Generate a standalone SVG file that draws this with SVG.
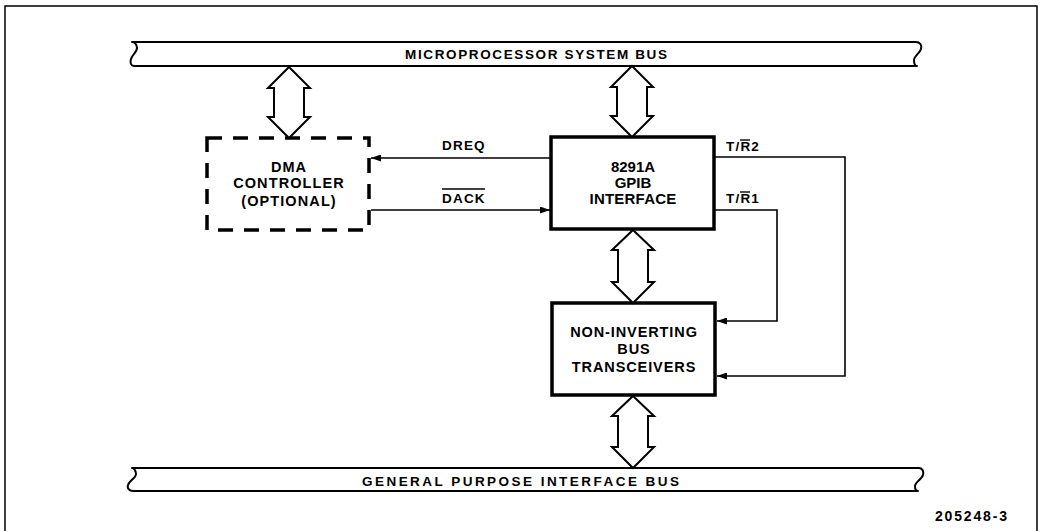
<svg xmlns="http://www.w3.org/2000/svg" width="1041" height="531" viewBox="0 0 1041 531">
<style>
text{font-family:"Liberation Sans",Arial,sans-serif;font-weight:bold;fill:#000}
.bus{fill:#fff;stroke:#000;stroke-width:2;stroke-linejoin:round}
.dbl{fill:#fff;stroke:#000;stroke-width:2;stroke-linejoin:miter}
.box{fill:#fff;stroke:#000;stroke-width:3.5}
.dash{fill:#fff;stroke:#000;stroke-width:3.5;stroke-dasharray:15 11}
.bt{font-size:14.5px;letter-spacing:1px;text-anchor:middle}
.lb{font-size:13.5px;letter-spacing:1.2px}
.wire{fill:none;stroke:#000;stroke-width:1.6}
.bar{stroke:#000;stroke-width:1.4}
</style>
<defs>
<marker id="ah" markerUnits="userSpaceOnUse" markerWidth="10" markerHeight="7" refX="10" refY="3.5" orient="auto">
<path d="M0,0 L10,3.5 L0,7 Z" fill="#000"/>
</marker>
</defs>
<path d="M5,540 V6 H1037 V540" fill="none" stroke="#000" stroke-width="1.5"/>
<g id="system-bus">
<path class="bus" d="M132,42 H916 C920,42 922,45 921,49 C920,53 914,56 914,60 C914,64 915,66 917,66 H134 C131,66 130,63 131,59 C132,55 137,52 137,48 C137,45 135,42 132,42 Z"/>
<text x="405" y="59" font-size="13.5" textLength="262" lengthAdjust="spacing">MICROPROCESSOR SYSTEM BUS</text>
</g>
<g id="gpib-bus">
<path class="bus" d="M132,468 H919 C922,468 924,471 923,475 C922,479 915,482 915,486 C915,489 916,491 918,491 H133 C129,491 127,488 128,485 C129,481 136,478 136,474 C136,471 134,468 132,468 Z"/>
<text x="362" y="485.5" font-size="13.5" textLength="317" lengthAdjust="spacing">GENERAL PURPOSE INTERFACE BUS</text>
</g>
<g id="dma">
<rect class="dash" x="207" y="138" width="162" height="92"/>
<text class="bt" x="289" y="172">DMA</text>
<text class="bt" x="289" y="188" style="letter-spacing:1.1px">CONTROLLER</text>
<text class="bt" x="289" y="206" style="letter-spacing:1.1px">(OPTIONAL)</text>
</g>
<g id="gpib-interface">
<rect class="box" x="551" y="137" width="163" height="92"/>
<text class="bt" x="633" y="172" style="font-size:15px;letter-spacing:0px">8291A</text>
<text class="bt" x="633" y="188" style="font-size:15px;letter-spacing:0px">GPIB</text>
<text class="bt" x="633" y="203.5" style="font-size:15px;letter-spacing:0.2px">INTERFACE</text>
</g>
<g id="transceivers">
<rect class="box" x="552" y="303" width="163" height="92"/>
<text class="bt" x="634" y="337" style="letter-spacing:0.9px">NON-INVERTING</text>
<text class="bt" x="634" y="354" style="letter-spacing:0.9px">BUS</text>
<text class="bt" x="634" y="372" style="letter-spacing:0.9px">TRANSCEIVERS</text>
</g>
<g id="connectors">
<path class="dbl" d="M289,67 L310,88 L304,88 L304,117 L310,117 L289,138 L268,117 L274,117 L274,88 L268,88 Z"/>
<path class="dbl" d="M632,66 L653,87 L647,87 L647,116 L653,116 L632,137 L611,116 L617,116 L617,87 L611,87 Z"/>
<path class="dbl" d="M633,230 L654,250 L648,250 L648,282 L654,282 L633,303 L612,282 L618,282 L618,250 L612,250 Z"/>
<path class="dbl" d="M633,396 L654,416 L648,416 L648,447 L654,447 L633,468 L612,447 L618,447 L618,416 L612,416 Z"/>
<line class="wire" x1="551" y1="158" x2="371" y2="158" marker-end="url(#ah)"/>
<line class="wire" x1="371" y1="210" x2="550" y2="210" marker-end="url(#ah)"/>
<polyline class="wire" points="714,157 845,157 845,376 717,376" marker-end="url(#ah)"/>
<polyline class="wire" points="714,210 777,210 777,321 717,321" marker-end="url(#ah)"/>
<text class="lb" x="442" y="150">DREQ</text>
<text class="lb" x="442" y="203">DACK</text>
<line class="bar" x1="442" y1="189" x2="485" y2="189"/>
<text class="lb" x="726" y="151">T/R2</text>
<line class="bar" x1="740" y1="140" x2="750" y2="140"/>
<text class="lb" x="726" y="203">T/R1</text>
<line class="bar" x1="740" y1="192" x2="750" y2="192"/>
</g>
<text x="935" y="521" font-size="14" textLength="72" lengthAdjust="spacing">205248-3</text>
</svg>
